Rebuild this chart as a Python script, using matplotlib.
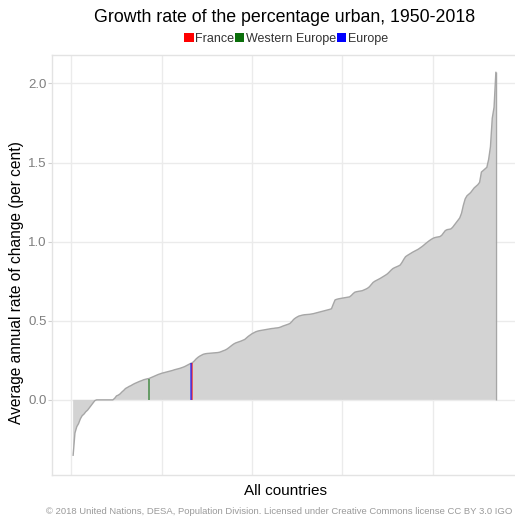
import matplotlib
matplotlib.use('Agg')
import matplotlib.pyplot as plt
from matplotlib.patches import Patch

plt.rcParams['font.family'] = ['Liberation Sans', 'DejaVu Sans']

# growth rate of the percentage urban, countries sorted ascending (per cent)
growth_rate = [
    -0.35, -0.21, -0.17, -0.15, -0.12, -0.10, -0.09, -0.075, -0.065, -0.05,
    -0.035, -0.02, -0.005, 0.0, 0.0, 0.0, 0.0, 0.0, 0.0, 0.0,
    0.0, 0.0, 0.0, 0.01, 0.025, 0.03, 0.038, 0.05, 0.06, 0.072,
    0.078, 0.085, 0.09, 0.097, 0.103, 0.108, 0.113, 0.118, 0.122, 0.127,
    0.13, 0.133, 0.135, 0.14, 0.145, 0.15, 0.155, 0.16, 0.164, 0.168,
    0.171, 0.174, 0.177, 0.18, 0.183, 0.186, 0.19, 0.193, 0.196, 0.199,
    0.203, 0.207, 0.212, 0.218, 0.224, 0.23, 0.235, 0.245, 0.258, 0.268,
    0.276, 0.282, 0.288, 0.291, 0.293, 0.294, 0.295, 0.296, 0.297, 0.298,
    0.299, 0.301, 0.305, 0.31, 0.314, 0.32, 0.328, 0.337, 0.346, 0.354,
    0.36, 0.364, 0.368, 0.372, 0.377, 0.382, 0.392, 0.402, 0.41, 0.418,
    0.424, 0.43, 0.434, 0.437, 0.439, 0.441, 0.443, 0.445, 0.447, 0.449,
    0.451, 0.452, 0.454, 0.455, 0.457, 0.461, 0.466, 0.47, 0.474, 0.478,
    0.483, 0.494, 0.508, 0.517, 0.524, 0.53, 0.533, 0.536, 0.538, 0.539,
    0.54, 0.541, 0.543, 0.545, 0.548, 0.551, 0.554, 0.557, 0.56, 0.563,
    0.566, 0.569, 0.572, 0.576, 0.605, 0.632, 0.636, 0.639, 0.641, 0.643,
    0.645, 0.647, 0.649, 0.651, 0.66, 0.672, 0.681, 0.684, 0.686, 0.688,
    0.69, 0.695, 0.70, 0.706, 0.715, 0.728, 0.742, 0.75, 0.756, 0.762,
    0.768, 0.775, 0.782, 0.789, 0.797, 0.808, 0.82, 0.83, 0.836, 0.841,
    0.846, 0.852, 0.868, 0.888, 0.905, 0.913, 0.92, 0.927, 0.934, 0.94,
    0.946, 0.952, 0.96, 0.968, 0.977, 0.987, 0.996, 1.005, 1.013, 1.02,
    1.025, 1.028, 1.03, 1.032, 1.04, 1.055, 1.07, 1.076, 1.078, 1.08,
    1.09, 1.105, 1.12, 1.135, 1.15, 1.18, 1.23, 1.27, 1.29, 1.30,
    1.31, 1.325, 1.34, 1.35, 1.36, 1.375, 1.44, 1.45, 1.46, 1.47,
    1.52, 1.6, 1.78, 1.85, 2.07,
]
ranks = list(range(1, len(growth_rate) + 1))

# highlighted areas: name, rank in the sorted list
highlight_names = ['France', 'Western Europe', 'Europe']
highlight_ranks = [67, 43, 66]
highlight_colors = ['#ff0000', '#0a6e0a', '#0000ff']

y_ticks = [0.0, 0.5, 1.0, 1.5, 2.0]
x_grid = [0, 50, 100, 150, 200]

fig = plt.figure(figsize=(5.15, 5.22), dpi=100)
ax = fig.add_axes([52 / 515, 47 / 522, 465 / 515, 420 / 522])

ax.fill_between(ranks, growth_rate, 0, facecolor='#d3d3d3', edgecolor='none', zorder=2)
ax.plot(ranks, growth_rate, color='#a6a6a6', lw=1, zorder=3)
ax.vlines(ranks[-1], 0, growth_rate[-1], color='#a6a6a6', lw=1, zorder=3)

# Europe / France / Western Europe markers
for name, r, c in zip(highlight_names, highlight_ranks, highlight_colors):
    ax.vlines(r, 0, growth_rate[r - 1], color=c, lw=1.4, alpha=0.55, zorder=4)

ax.set_xlim(-10.7, 246.7)
ax.set_ylim(-0.475, 2.18)
ax.set_xticks(x_grid)
ax.set_xticklabels([])
ax.set_yticks(y_ticks)
ax.set_yticklabels(['%.1f' % t for t in y_ticks])
ax.tick_params(axis='x', length=0)
ax.tick_params(axis='y', length=3, color='#d0d0d0', labelcolor='#7f7f7f', labelsize=9.5, pad=1)
ax.grid(True, color='#ebebeb', lw=1, zorder=0)
ax.set_axisbelow(True)
for s in ax.spines.values():
    s.set_color('#e3e3e3')
    s.set_linewidth(1)

fig.text(285 / 515, 1 - 18 / 522, 'Growth rate of the percentage urban, 1950-2018',
         ha='center', va='center', fontsize=12.8)

handles = [Patch(facecolor=c, edgecolor='none') for c in highlight_colors]
fig.legend(handles, highlight_names, loc='center', bbox_to_anchor=(286 / 515, 1 - 39 / 522),
           ncol=3, frameon=False, fontsize=9, handlelength=0.75, handleheight=0.75,
           handletextpad=0.1, columnspacing=0.1, labelcolor='#333333')

fig.text(17 / 515, 1 - 283 / 522, 'Average annual rate of change (per cent)',
         rotation=90, ha='center', va='center', fontsize=11.2)
fig.text(285 / 515, 1 - 491 / 522, 'All countries', ha='center', va='center', fontsize=11)
fig.text(512 / 515, 1 - 512 / 522,
         '\u00a9 2018 United Nations, DESA, Population Division. Licensed under Creative Commons license CC BY 3.0 IGO',
         ha='right', va='center', fontsize=6.8, color='#9a9a9a')

fig.savefig('out.png', dpi=100)
